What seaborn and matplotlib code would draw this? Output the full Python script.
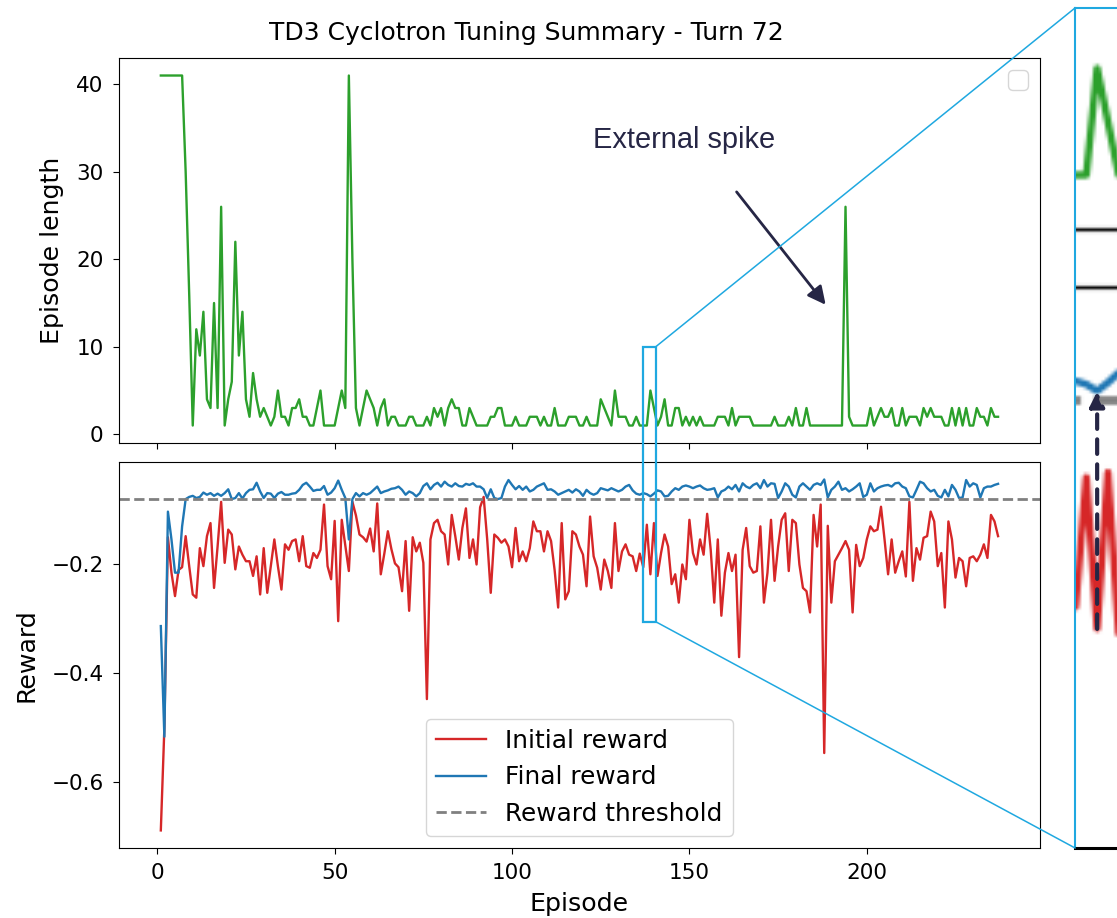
import numpy as np
import pandas as pd
import matplotlib
matplotlib.use("Agg")
import matplotlib.pyplot as plt
import seaborn as sns
from matplotlib.patches import Rectangle
from matplotlib.lines import Line2D
from matplotlib.ticker import MultipleLocator

# ---------------------------------------------------------------- data
episode_length = [
    41, 41, 41, 41, 41, 41, 41, 30, 16, 1,
    12, 9, 14, 4, 3, 15, 3, 26, 1, 4,
    6, 22, 9, 14, 4, 2, 7, 4, 2, 3,
    2, 1, 2, 5, 2, 2, 1, 3, 3, 4,
    2, 2, 1, 1, 3, 5, 1, 1, 1, 1,
    3, 5, 3, 41, 20, 3, 1, 3, 5, 4,
    3, 1, 3, 4, 1, 2, 2, 1, 1, 1,
    2, 2, 1, 1, 1, 2, 1, 3, 2, 3,
    1, 3, 4, 3, 3, 1, 1, 3, 2, 1,
    1, 1, 1, 2, 2, 3, 3, 1, 1, 1,
    2, 1, 1, 1, 2, 2, 2, 1, 2, 1,
    1, 3, 1, 1, 1, 2, 2, 2, 1, 1,
    2, 1, 1, 1, 4, 3, 2, 1, 5, 2,
    2, 2, 1, 1, 2, 1, 1, 1, 5, 3,
    1, 2, 4, 1, 1, 3, 3, 1, 2, 1,
    2, 1, 2, 1, 1, 1, 1, 2, 2, 2,
    1, 3, 1, 2, 2, 2, 2, 1, 1, 1,
    1, 1, 1, 2, 1, 1, 1, 2, 1, 3,
    1, 1, 3, 1, 1, 1, 1, 1, 1, 1,
    1, 1, 1, 26, 2, 1, 1, 1, 1, 1,
    3, 1, 2, 3, 2, 2, 3, 1, 1, 3,
    1, 2, 2, 2, 1, 3, 2, 3, 2, 2,
    2, 1, 1, 3, 1, 3, 1, 3, 1, 1,
    3, 2, 2, 1, 3, 2, 2,
]

initial_reward = [
    -0.688, -0.500, -0.150, -0.215, -0.258, -0.210, -0.205, -0.148, -0.203, -0.255,
    -0.261, -0.170, -0.203, -0.148, -0.124, -0.243, -0.167, -0.085, -0.197, -0.136,
    -0.145, -0.209, -0.167, -0.182, -0.194, -0.194, -0.221, -0.185, -0.255, -0.170,
    -0.252, -0.203, -0.154, -0.203, -0.246, -0.163, -0.173, -0.157, -0.154, -0.194,
    -0.148, -0.203, -0.206, -0.179, -0.188, -0.173, -0.090, -0.203, -0.227, -0.120,
    -0.304, -0.118, -0.165, -0.212, -0.085, -0.110, -0.145, -0.150, -0.158, -0.134,
    -0.176, -0.088, -0.218, -0.180, -0.139, -0.172, -0.198, -0.205, -0.249, -0.157,
    -0.285, -0.150, -0.176, -0.160, -0.197, -0.447, -0.154, -0.124, -0.118, -0.139,
    -0.145, -0.200, -0.109, -0.148, -0.191, -0.133, -0.097, -0.188, -0.154, -0.200,
    -0.095, -0.076, -0.154, -0.252, -0.145, -0.151, -0.160, -0.154, -0.167, -0.205,
    -0.133, -0.194, -0.176, -0.194, -0.170, -0.121, -0.139, -0.139, -0.176, -0.139,
    -0.157, -0.210, -0.279, -0.124, -0.264, -0.249, -0.139, -0.145, -0.167, -0.182,
    -0.240, -0.112, -0.185, -0.206, -0.246, -0.191, -0.212, -0.243, -0.124, -0.212,
    -0.176, -0.163, -0.182, -0.185, -0.212, -0.180, -0.205, -0.127, -0.218, -0.124,
    -0.221, -0.179, -0.145, -0.167, -0.236, -0.218, -0.270, -0.200, -0.227, -0.118,
    -0.179, -0.200, -0.154, -0.182, -0.107, -0.173, -0.270, -0.154, -0.294, -0.215,
    -0.179, -0.212, -0.182, -0.370, -0.173, -0.133, -0.203, -0.215, -0.212, -0.130,
    -0.270, -0.215, -0.118, -0.230, -0.167, -0.118, -0.106, -0.212, -0.118, -0.124,
    -0.200, -0.243, -0.249, -0.288, -0.109, -0.167, -0.090, -0.546, -0.129, -0.270,
    -0.194, -0.182, -0.170, -0.157, -0.173, -0.288, -0.164, -0.203, -0.188, -0.154,
    -0.130, -0.139, -0.136, -0.094, -0.154, -0.218, -0.154, -0.215, -0.194, -0.176,
    -0.222, -0.085, -0.230, -0.170, -0.191, -0.151, -0.148, -0.103, -0.121, -0.203,
    -0.179, -0.279, -0.121, -0.154, -0.224, -0.188, -0.194, -0.240, -0.188, -0.185,
    -0.194, -0.182, -0.163, -0.188, -0.109, -0.121, -0.148,
]

final_reward = [
    -0.313, -0.516, -0.103, -0.154, -0.215, -0.215, -0.130, -0.080, -0.076, -0.074,
    -0.078, -0.076, -0.068, -0.072, -0.069, -0.074, -0.070, -0.074, -0.069, -0.062,
    -0.080, -0.078, -0.069, -0.079, -0.069, -0.063, -0.062, -0.050, -0.066, -0.078,
    -0.069, -0.070, -0.078, -0.070, -0.067, -0.072, -0.072, -0.070, -0.069, -0.063,
    -0.054, -0.050, -0.057, -0.065, -0.063, -0.063, -0.056, -0.072, -0.068, -0.060,
    -0.046, -0.063, -0.078, -0.154, -0.080, -0.069, -0.075, -0.069, -0.072, -0.069,
    -0.063, -0.057, -0.069, -0.066, -0.064, -0.061, -0.060, -0.057, -0.063, -0.072,
    -0.066, -0.069, -0.075, -0.069, -0.056, -0.051, -0.062, -0.054, -0.050, -0.057,
    -0.048, -0.054, -0.057, -0.051, -0.056, -0.057, -0.052, -0.054, -0.051, -0.057,
    -0.057, -0.062, -0.078, -0.062, -0.078, -0.080, -0.078, -0.057, -0.045, -0.054,
    -0.062, -0.056, -0.063, -0.057, -0.066, -0.063, -0.057, -0.054, -0.051, -0.063,
    -0.062, -0.066, -0.072, -0.069, -0.066, -0.063, -0.068, -0.062, -0.066, -0.074,
    -0.063, -0.069, -0.072, -0.069, -0.060, -0.062, -0.064, -0.060, -0.063, -0.066,
    -0.063, -0.057, -0.054, -0.064, -0.070, -0.072, -0.069, -0.071, -0.075, -0.070,
    -0.064, -0.066, -0.075, -0.074, -0.066, -0.060, -0.063, -0.057, -0.055, -0.057,
    -0.060, -0.057, -0.055, -0.060, -0.063, -0.062, -0.060, -0.077, -0.066, -0.063,
    -0.057, -0.062, -0.054, -0.066, -0.051, -0.057, -0.060, -0.054, -0.051, -0.060,
    -0.045, -0.057, -0.051, -0.052, -0.078, -0.066, -0.051, -0.057, -0.072, -0.077,
    -0.057, -0.051, -0.057, -0.063, -0.054, -0.051, -0.054, -0.044, -0.077, -0.063,
    -0.057, -0.048, -0.063, -0.060, -0.066, -0.062, -0.057, -0.051, -0.076, -0.072,
    -0.051, -0.066, -0.060, -0.057, -0.055, -0.054, -0.057, -0.051, -0.050, -0.057,
    -0.060, -0.075, -0.077, -0.063, -0.048, -0.051, -0.060, -0.066, -0.063, -0.074,
    -0.077, -0.063, -0.075, -0.054, -0.063, -0.078, -0.077, -0.045, -0.057, -0.051,
    -0.054, -0.077, -0.060, -0.057, -0.057, -0.054, -0.052,
]

reward_threshold = -0.08
episodes = np.arange(1, len(episode_length) + 1)

df = pd.DataFrame({
    "Episode": episodes,
    "Episode length": episode_length,
    "Initial reward": initial_reward,
    "Final reward": final_reward,
})

# ---------------------------------------------------------------- style
plt.rcParams.update({
    "font.size": 18,
    "axes.labelsize": 18.2,
    "axes.labelpad": 9,
    "xtick.labelsize": 15.5,
    "ytick.labelsize": 15.5,
    "xtick.major.pad": 7,
    "ytick.major.pad": 7,
    "xtick.major.size": 4.1,
    "ytick.major.size": 4.1,
    "legend.fontsize": 17.8,
})

NAVY = "#262645"
CYAN = "#1fa8e0"
W, H, DPI = 1117, 918, 100

fig = plt.figure(figsize=(W / DPI, H / DPI), dpi=DPI)
ax1 = fig.add_axes([0.1065, 0.5174, 0.8245, 0.4194])
ax2 = fig.add_axes([0.1065, 0.0763, 0.8245, 0.4205], sharex=ax1)

# ---------------------------------------------------------------- episode length
sns.lineplot(data=df, x="Episode", y="Episode length", ax=ax1,
             color="tab:green", lw=1.7, estimator=None)
ax1.set_xlabel("")
ax1.tick_params(labelbottom=False)
ax1.yaxis.set_major_locator(MultipleLocator(10))
ax1.legend(handles=[], loc="upper right")

ax1.text(148.4, 33.6, "External spike", ha="center", va="center",
         fontsize=20.9, family="Liberation Sans", color=NAVY)
ax1.annotate("", xy=(188.4, 14.8), xytext=(163.3, 27.7),
             arrowprops=dict(arrowstyle="-|>", color=NAVY, lw=2,
                             mutation_scale=27, shrinkA=0, shrinkB=0))

# ---------------------------------------------------------------- rewards
sns.lineplot(data=df, x="Episode", y="Initial reward", ax=ax2,
             color="tab:red", lw=1.7, estimator=None, label="Initial reward")
sns.lineplot(data=df, x="Episode", y="Final reward", ax=ax2,
             color="tab:blue", lw=1.7, estimator=None, label="Final reward")
ax2.axhline(reward_threshold, color="gray", ls="--", lw=2,
            label="Reward threshold")
ax2.yaxis.set_major_locator(MultipleLocator(0.2))
ax2.set_ylabel("Reward")
ax2.set_xlabel("Episode", labelpad=6)
ax2.legend(loc="lower center")

fig.suptitle("TD3 Cyclotron Tuning Summary - Turn 72",
             x=0.471, y=0.964, va="center", fontsize=18)

# ---------------------------------------------------------------- magnified view
fig.canvas.draw()
frame = np.asarray(fig.canvas.buffer_rgba())[..., :3].copy()


def to_display(ax, x, y):
    return ax.transData.transform((x, y))


# outlined window (episode range, top in length units, bottom in reward units)
box_x0, box_top = to_display(ax1, 136.95, 10.0)
box_x1, _ = to_display(ax1, 140.5, 10.0)
_, box_bot = to_display(ax2, 136.95, -0.305)

# region shown inside the magnifier
_, view_top = to_display(ax1, 136.95, 7.3)
_, view_bot = to_display(ax2, 136.95, -0.35)

in_left = 1075 / W
in_bottom = 0.0763
in_top = 0.9913
in_h_px = (in_top - in_bottom) * H
scale = in_h_px / (view_top - view_bot)
in_w_px = (W - 1075) + 8
view_x0 = box_x0
view_x1 = box_x0 + in_w_px / scale

r0 = int(round(H - view_top))
r1 = int(round(H - view_bot))
c0 = int(np.floor(view_x0))
c1 = int(np.ceil(view_x1)) + 1
crop = frame[r0:r1, c0:c1]

ax_in = fig.add_axes([in_left, in_bottom, in_w_px / W, in_top - in_bottom])
ax_in.imshow(crop, extent=(c0, c1, H - r1, H - r0),
             interpolation="bilinear", aspect="auto")
ax_in.set_xlim(view_x0, view_x1)
ax_in.set_ylim(view_bot, view_top)
ax_in.set_xticks([])
ax_in.set_yticks([])
for side in ("left", "top"):
    ax_in.spines[side].set_color(CYAN)
    ax_in.spines[side].set_linewidth(1.5)
ax_in.spines["right"].set_visible(False)
ax_in.spines["bottom"].set_color("black")
ax_in.spines["bottom"].set_linewidth(2.2)

# improvement arrow for one episode: initial -> final reward
mark_ep = 139
tail = to_display(ax2, mark_ep, initial_reward[mark_ep - 1])
tip = to_display(ax2, mark_ep, final_reward[mark_ep - 1])
ax_in.annotate("", xy=tip, xytext=tail,
               arrowprops=dict(arrowstyle="-|>", color=NAVY, lw=3,
                               ls=(0, (3.5, 2.5)), mutation_scale=22,
                               shrinkA=0, shrinkB=0))

# outline and connector lines
fig.add_artist(Rectangle((box_x0 / W, box_bot / H),
                         (box_x1 - box_x0) / W, (box_top - box_bot) / H,
                         transform=fig.transFigure, fill=False,
                         ec=CYAN, lw=1.6))
fig.add_artist(Line2D([box_x1 / W, in_left], [box_top / H, in_top],
                      transform=fig.transFigure, color=CYAN, lw=1.1))
fig.add_artist(Line2D([box_x1 / W, in_left], [box_bot / H, in_bottom],
                      transform=fig.transFigure, color=CYAN, lw=1.1))

fig.savefig("out.png", dpi=DPI)
